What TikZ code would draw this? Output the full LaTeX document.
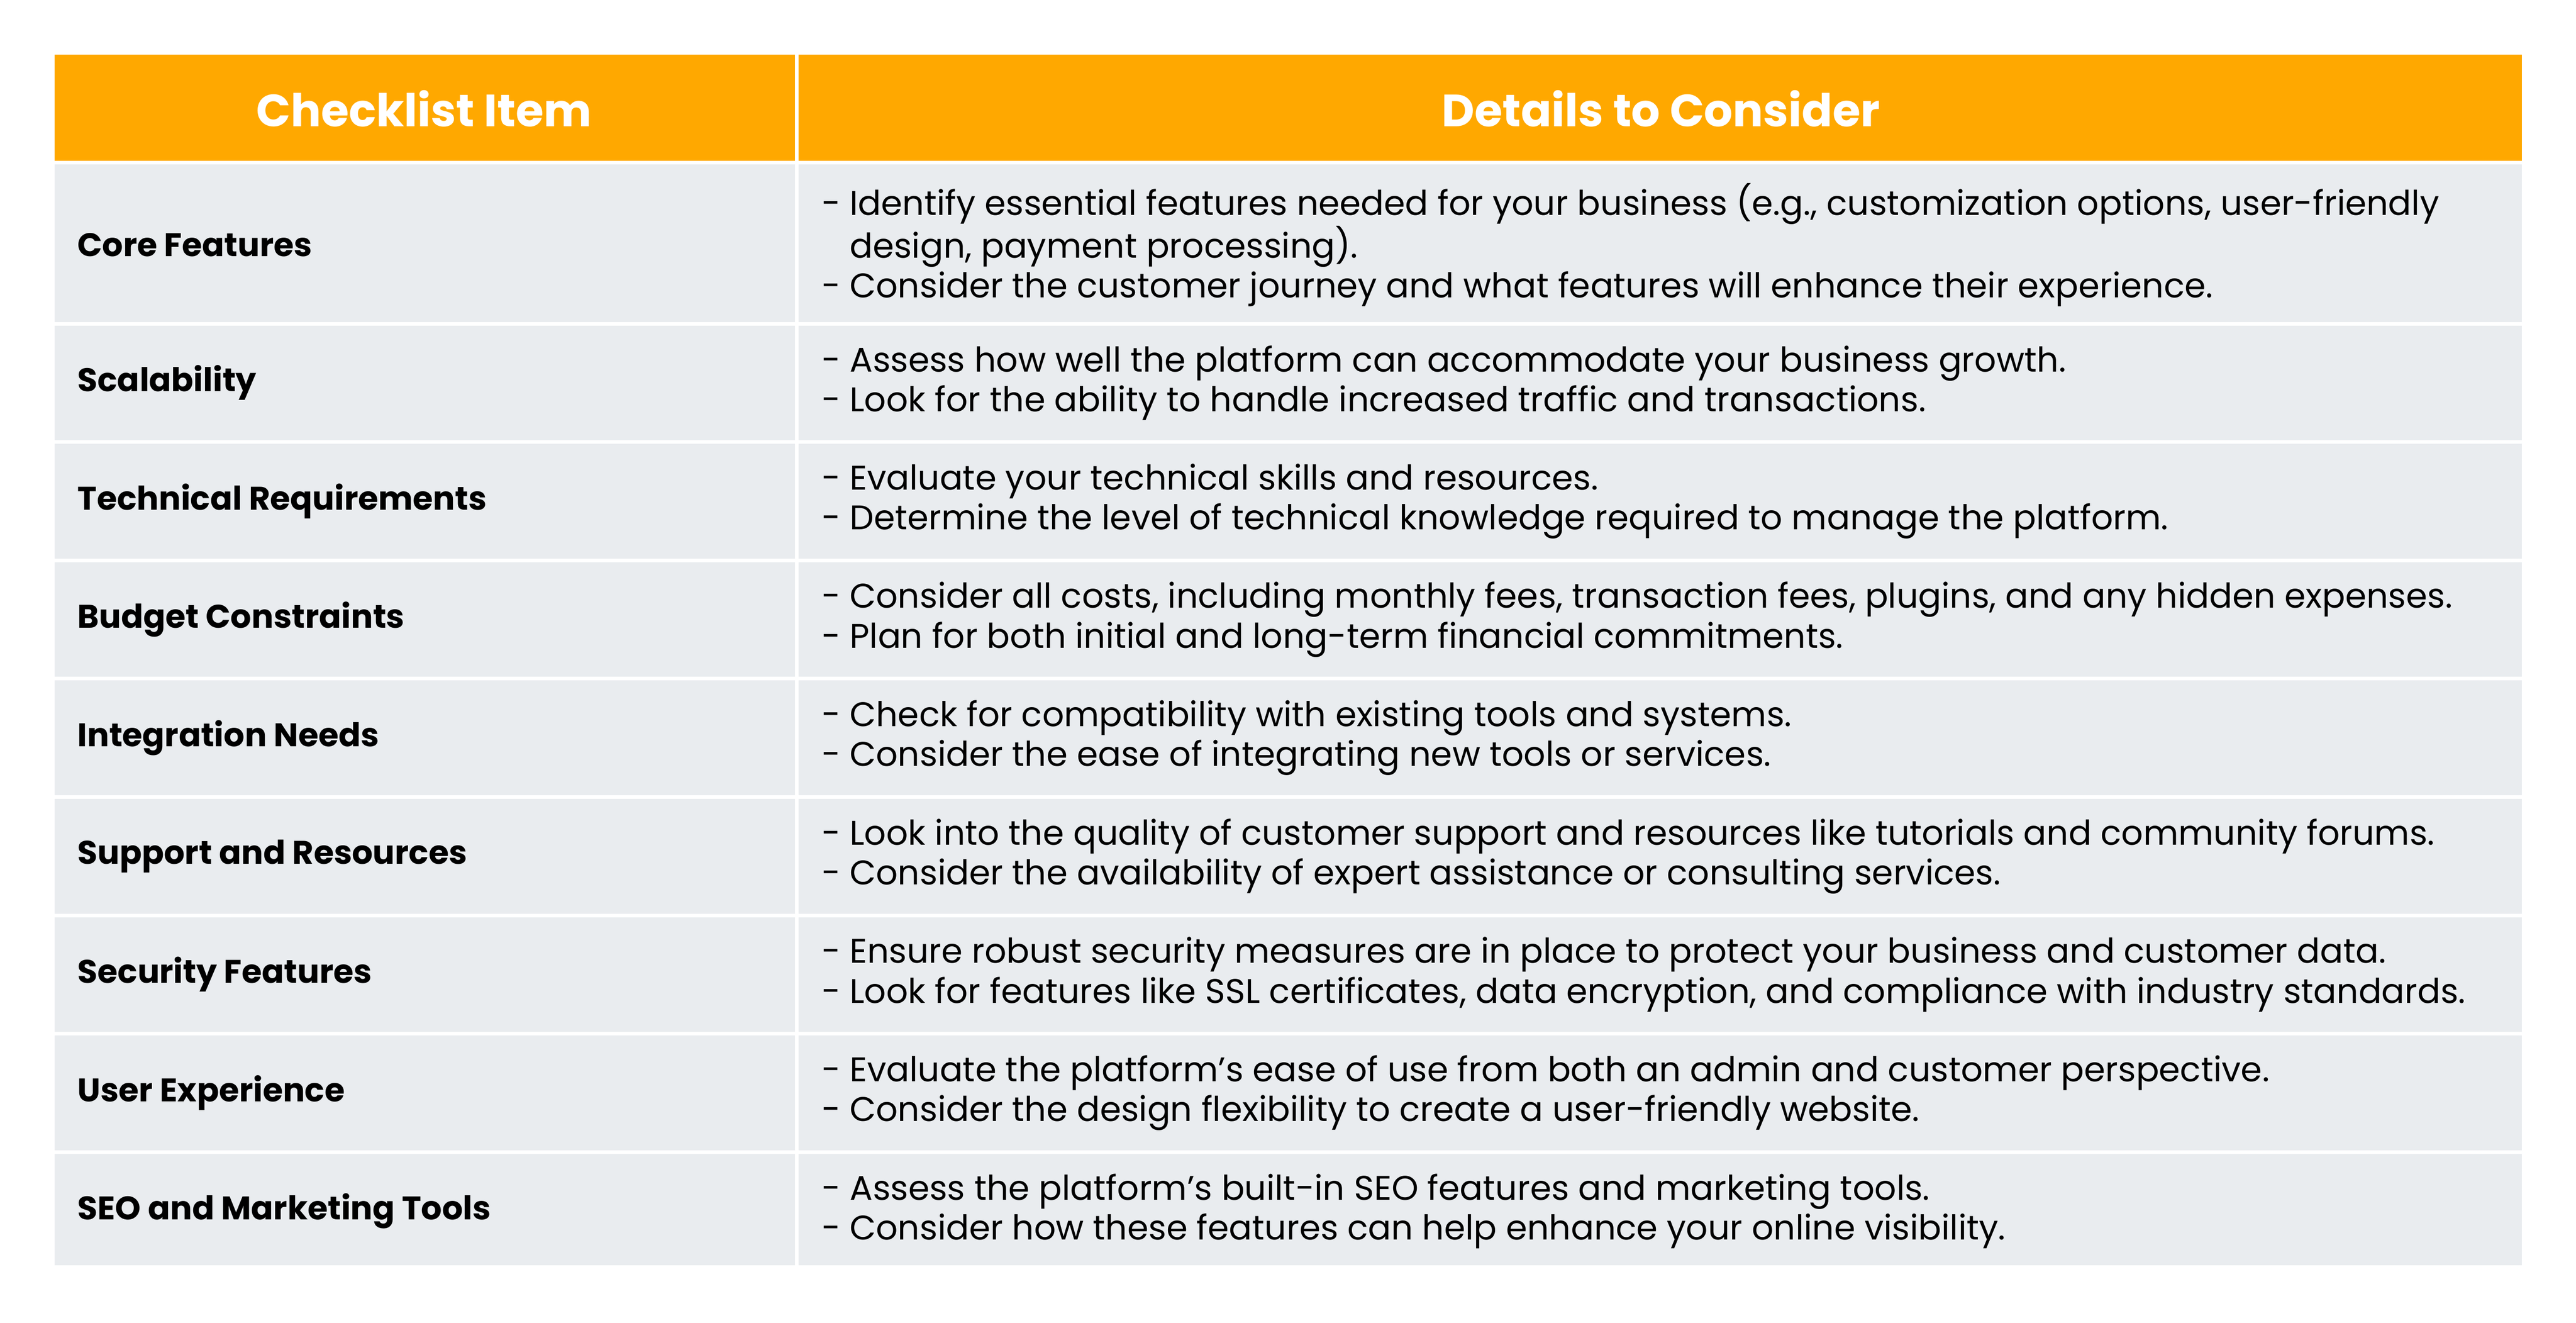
\documentclass[tikz,border=0pt]{standalone}
\usepackage{fontspec}
\setmainfont{Poppins}
\definecolor{hdr}{HTML}{FFA800}
\definecolor{rowbg}{HTML}{E9ECEF}
\begin{document}
\begin{tikzpicture}[x=1pt,y=-1pt,
  cell/.style={draw=white,line width=2.2pt},
  htext/.style={font=\fontsize{27.5}{30}\selectfont\bfseries,text=white,anchor=center},
  itext/.style={font=\fontsize{19.9}{24}\selectfont\bfseries,anchor=west,inner sep=0},
  dtext/.style={font=\fontsize{20.8}{24.3}\selectfont,anchor=west,align=left,inner sep=0}]
\useasboundingbox[fill=white] (0,0) rectangle (1568,805);
\fill[hdr,draw=white,line width=2.2pt] (32,32) rectangle (485,99);
\fill[hdr,draw=white,line width=2.2pt] (485,32) rectangle (1536,99);
\node[htext] (h1) at (258,66) {Checklist Item};
\node[htext] (h2) at (1011,66) {Details to Consider};
\foreach \t/\b/\n in {99/197/1,197/269/2,269/341/3,341/413/4,413/485/5,485/557/6,557/629/7,629/701/8,701/771/9}{
  \filldraw[rowbg,cell] (32,\t) rectangle (485,\b);
  \filldraw[rowbg,cell] (485,\t) rectangle (1536,\b);
}
\node[itext] (i1) at (47,149) {Core Features};
\node[itext] (i2) at (47,233) {Scalability};
\node[itext] (i3) at (47,305) {Technical Requirements};
\node[itext] (i4) at (47,377) {Budget Constraints};
\node[itext] (i5) at (47,449) {Integration Needs};
\node[itext] (i6) at (47,521) {Support and Resources};
\node[itext] (i7) at (47,593) {Security Features};
\node[itext] (i8) at (47,665) {User Experience};
\node[itext] (i9) at (47,737) {SEO and Marketing Tools};
\node[dtext] (d1) at (500,149) {- Identify essential features needed for your business (e.g., customization options, user-friendly\\\phantom{- }design, payment processing).\\- Consider the customer journey and what features will enhance their experience.};
\node[dtext] (d2) at (500,233) {- Assess how well the platform can accommodate your business growth.\\- Look for the ability to handle increased traffic and transactions.};
\node[dtext] (d3) at (500,305) {- Evaluate your technical skills and resources.\\- Determine the level of technical knowledge required to manage the platform.};
\node[dtext] (d4) at (500,377) {- Consider all costs, including monthly fees, transaction fees, plugins, and any hidden expenses.\\- Plan for both initial and long-term financial commitments.};
\node[dtext] (d5) at (500,449) {- Check for compatibility with existing tools and systems.\\- Consider the ease of integrating new tools or services.};
\node[dtext] (d6) at (500,521) {- Look into the quality of customer support and resources like tutorials and community forums.\\- Consider the availability of expert assistance or consulting services.};
\node[dtext] (d7) at (500,593) {- Ensure robust security measures are in place to protect your business and customer data.\\- Look for features like SSL certificates, data encryption, and compliance with industry standards.};
\node[dtext] (d8) at (500,665) {- Evaluate the platform’s ease of use from both an admin and customer perspective.\\- Consider the design flexibility to create a user-friendly website.};
\node[dtext] (d9) at (500,737) {- Assess the platform’s built-in SEO features and marketing tools.\\- Consider how these features can help enhance your online visibility.};
\end{tikzpicture}
\end{document}
